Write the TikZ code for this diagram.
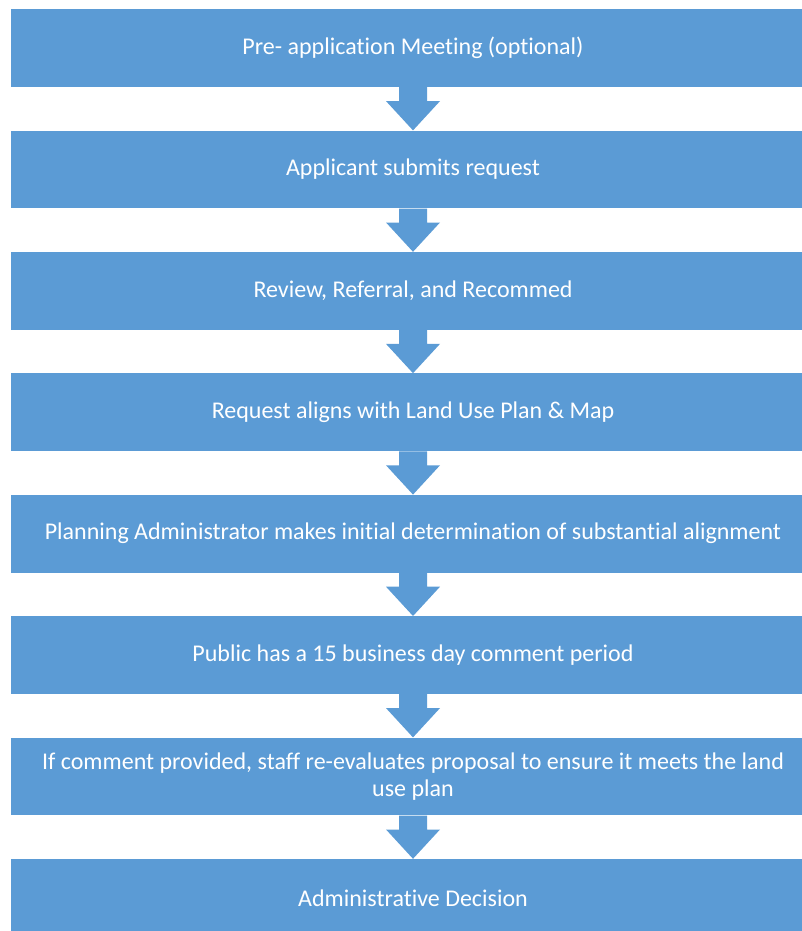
\documentclass[tikz,border=0pt]{standalone}
\usepackage{fontspec}
\setmainfont{Carlito}[Ligatures=NoCommon]
\usetikzlibrary{calc}
\definecolor{boxblue}{HTML}{5B9BD5}
\begin{document}
\begin{tikzpicture}[x=1pt,y=-1pt,
  stepbox/.style={fill=boxblue, text=white, minimum width=804pt, minimum height=77.7pt,
    inner sep=0pt, align=center, anchor=north, font=\fontsize{24}{27.5}\selectfont},
  flowarrow/.style={fill=boxblue}]
\useasboundingbox (0,0) rectangle (802,931);
\clip (0,0) rectangle (802,931);
\node[stepbox] (b1) at (413,9)     {Pre- application Meeting (optional)};
\node[stepbox] (b2) at (413,130.4) {Applicant submits request};
\node[stepbox] (b3) at (413,251.8) {Review, Referral, and Recommed};
\node[stepbox] (b4) at (413,373.2) {Request aligns with Land Use Plan \& Map};
\node[stepbox] (b5) at (413,494.6) {Planning Administrator makes initial determination of substantial alignment};
\node[stepbox] (b6) at (413,616)   {Public has a 15 business day comment period};
\node[stepbox] (b7) at (413,737.4) {If comment provided, staff re-evaluates proposal to ensure it meets the land\\use plan};
\node[stepbox] (b8) at (413,858.8) {Administrative Decision};
\foreach \a/\b in {b1/b2,b2/b3,b3/b4,b4/b5,b5/b6,b6/b7,b7/b8}{
  \fill[flowarrow] ($(\a.south)+(-14,0)$) -- ($(\a.south)+(14,0)$) -- ($(\a.south)+(14,14)$)
    -- ($(\a.south)+(27,14)$) -- (\b.north) -- ($(\a.south)+(-27,14)$)
    -- ($(\a.south)+(-14,14)$) -- cycle;
}
\end{tikzpicture}
\end{document}
